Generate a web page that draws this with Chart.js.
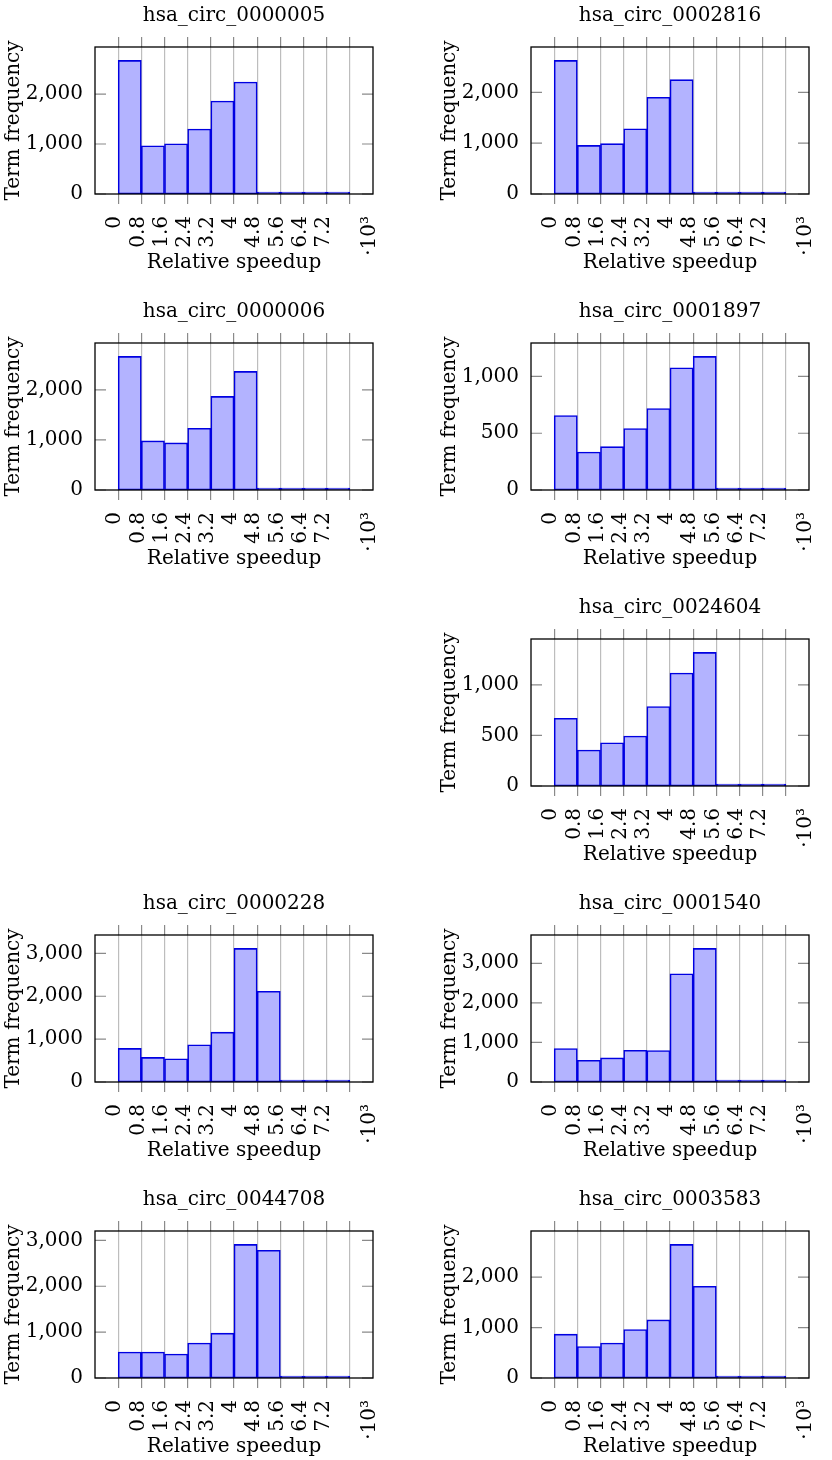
<!DOCTYPE html>
<html>
<head>
<meta charset="utf-8">
<script src="https://cdn.jsdelivr.net/npm/chart.js@4"></script>
<style>
  html, body { margin: 0; padding: 0; background: #fff; overflow: hidden; }
  body { width: 832px; height: 1460px; position: relative; }
  canvas { position: absolute; }
</style>
</head>
<body>
<script>
// histogram bins (relative speedup, x10^3)
const binEdges = [0, 0.8, 1.6, 2.4, 3.2, 4.0, 4.8, 5.6, 6.4, 7.2, 8.0];
const xTickValues = [0, 0.8, 1.6, 2.4, 3.2, 4.0, 4.8, 5.6, 6.4, 7.2, 8.0, 8.8];
const xTickLabels = ['0', '0.8', '1.6', '2.4', '3.2', '4', '4.8', '5.6', '6.4', '7.2', '', '·10³'];
const yTicksThousand = [0, 1000, 2000, 3000];
const yTicksHalf = [0, 500, 1000];

// term frequency per bin
const circ0000005 = [2674, 966, 1006, 1300, 1860, 2240, 14, 4, 2, 1];
const circ0002816 = [2630, 957, 990, 1285, 1902, 2250, 10, 4, 2, 1];
const circ0000006 = [2667, 980, 940, 1233, 1867, 2367, 8, 3, 2, 1];
const circ0001897 = [656, 335, 382, 541, 718, 1077, 1177, 4, 2, 1];
const circ0024604 = [669, 355, 427, 494, 785, 1116, 1321, 8, 3, 1];
const circ0000228 = [784, 574, 543, 868, 1163, 3116, 2116, 10, 4, 2];
const circ0001540 = [846, 549, 608, 802, 795, 2734, 3377, 10, 4, 2];
const circ0044708 = [565, 565, 522, 761, 978, 2913, 2783, 10, 4, 2];
const circ0003583 = [869, 625, 692, 960, 1152, 2648, 1818, 10, 4, 2];

const names = ['hsa_circ_0000005', 'hsa_circ_0002816', 'hsa_circ_0000006', 'hsa_circ_0001897',
  'hsa_circ_0024604', 'hsa_circ_0000228', 'hsa_circ_0001540', 'hsa_circ_0044708', 'hsa_circ_0003583'];
const series = [circ0000005, circ0002816, circ0000006, circ0001897, circ0024604,
  circ0000228, circ0001540, circ0044708, circ0003583];
const yTickSets = [yTicksThousand, yTicksThousand, yTicksThousand, yTicksHalf, yTicksHalf,
  yTicksThousand, yTicksThousand, yTicksThousand, yTicksThousand];

// layout: [column, row] of each panel
const cells = [[0, 0], [1, 0], [0, 1], [1, 1], [1, 2], [0, 3], [1, 3], [0, 4], [1, 4]];

const FONT = {family: 'DejaVu Serif', size: 20};
const GRID = '#bdbdbd';
const TICK = '#8a8a8a';

// black box round the plot area, short inner y ticks on both sides
const frame = {
  id: 'frame',
  afterDatasetsDraw(chart) {
    const {ctx, chartArea: a} = chart;
    const y = chart.scales.y;
    ctx.save();
    ctx.strokeStyle = TICK;
    ctx.lineWidth = 1.2;
    y.ticks.forEach(t => {
      const py = y.getPixelForValue(t.value);
      ctx.beginPath();
      ctx.moveTo(a.left, py); ctx.lineTo(a.left + 11, py);
      ctx.moveTo(a.right - 11, py); ctx.lineTo(a.right, py);
      ctx.stroke();
    });
    ctx.strokeStyle = '#000';
    ctx.lineWidth = 1.3;
    ctx.strokeRect(a.left, a.top, a.right - a.left, a.bottom - a.top);
    ctx.restore();
  }
};

const hideLast = (color) => (c) => (c.tick && c.tick.value > 8.4 ? 'rgba(0,0,0,0)' : color);
const setXTicks = (scale) => { scale.ticks = xTickValues.map(value => ({value})); };

function makeChart(i) {
  const [col, row] = cells[i];
  const canvas = document.createElement('canvas');
  canvas.width = 396;
  canvas.height = 296;
  canvas.style.left = (col * 436) + 'px';
  canvas.style.top = (row * 296) + 'px';
  document.body.appendChild(canvas);

  const values = series[i];
  const yMax = Math.max(...values) * 1.1;
  const yTicks = yTickSets[i].filter(v => v <= yMax);

  new Chart(canvas, {
    type: 'bar',
    data: {
      datasets: [{
        data: values.map((v, k) => ({x: (binEdges[k] + binEdges[k + 1]) / 2, y: v})),
        backgroundColor: 'rgb(179,179,255)',
        borderColor: 'rgb(0,0,225)',
        borderWidth: 1.6,
        borderSkipped: false,
        minBarLength: 2,
        barPercentage: 1,
        categoryPercentage: 1
      }]
    },
    options: {
      responsive: false,
      animation: false,
      devicePixelRatio: 1,
      layout: {padding: {left: 0, right: 23, top: 0, bottom: 0}},
      plugins: {legend: {display: false}, tooltip: {enabled: false}},
      scales: {
        x: {
          type: 'linear', position: 'bottom', min: -0.8, max: 8.8, offset: false,
          afterBuildTicks: setXTicks,
          afterFit: s => { s.height = 102; s.paddingLeft = 0; s.paddingRight = 0; },
          grid: {offset: false, color: hideLast(GRID), tickColor: hideLast(TICK), tickLength: 10, lineWidth: 1.2},
          border: {display: false},
          ticks: {
            autoSkip: false, minRotation: 90, maxRotation: 90, padding: 12, labelOffset: -3,
            color: '#000', font: FONT,
            callback: (v, k) => xTickLabels[k]
          },
          title: {display: true, text: 'Relative speedup', color: '#000', font: FONT, padding: {top: 0, bottom: 21}}
        },
        xTop: {
          axis: 'x', type: 'linear', position: 'top', min: -0.8, max: 8.8, offset: false,
          afterBuildTicks: setXTicks,
          afterFit: s => { s.height = 47; s.paddingLeft = 0; s.paddingRight = 0; },
          grid: {offset: false, drawOnChartArea: false, color: hideLast(TICK), tickLength: 10, lineWidth: 1.2},
          border: {display: false},
          ticks: {display: false},
          title: {display: true, text: names[i], color: '#000', font: FONT, padding: {top: 4, bottom: 0}}
        },
        y: {
          type: 'linear', position: 'left', min: 0, max: yMax,
          afterBuildTicks: s => { s.ticks = yTicks.map(value => ({value})); },
          afterFit: s => { s.width = 95; },
          grid: {display: false},
          border: {display: false},
          ticks: {padding: 4, color: '#000', font: FONT, callback: v => v.toLocaleString('en-US')},
          title: {display: true, text: 'Term frequency', color: '#000', font: FONT, padding: {top: 2, bottom: 0}}
        }
      }
    },
    plugins: [frame]
  });
}

names.forEach((n, i) => makeChart(i));
</script>
</body>
</html>
